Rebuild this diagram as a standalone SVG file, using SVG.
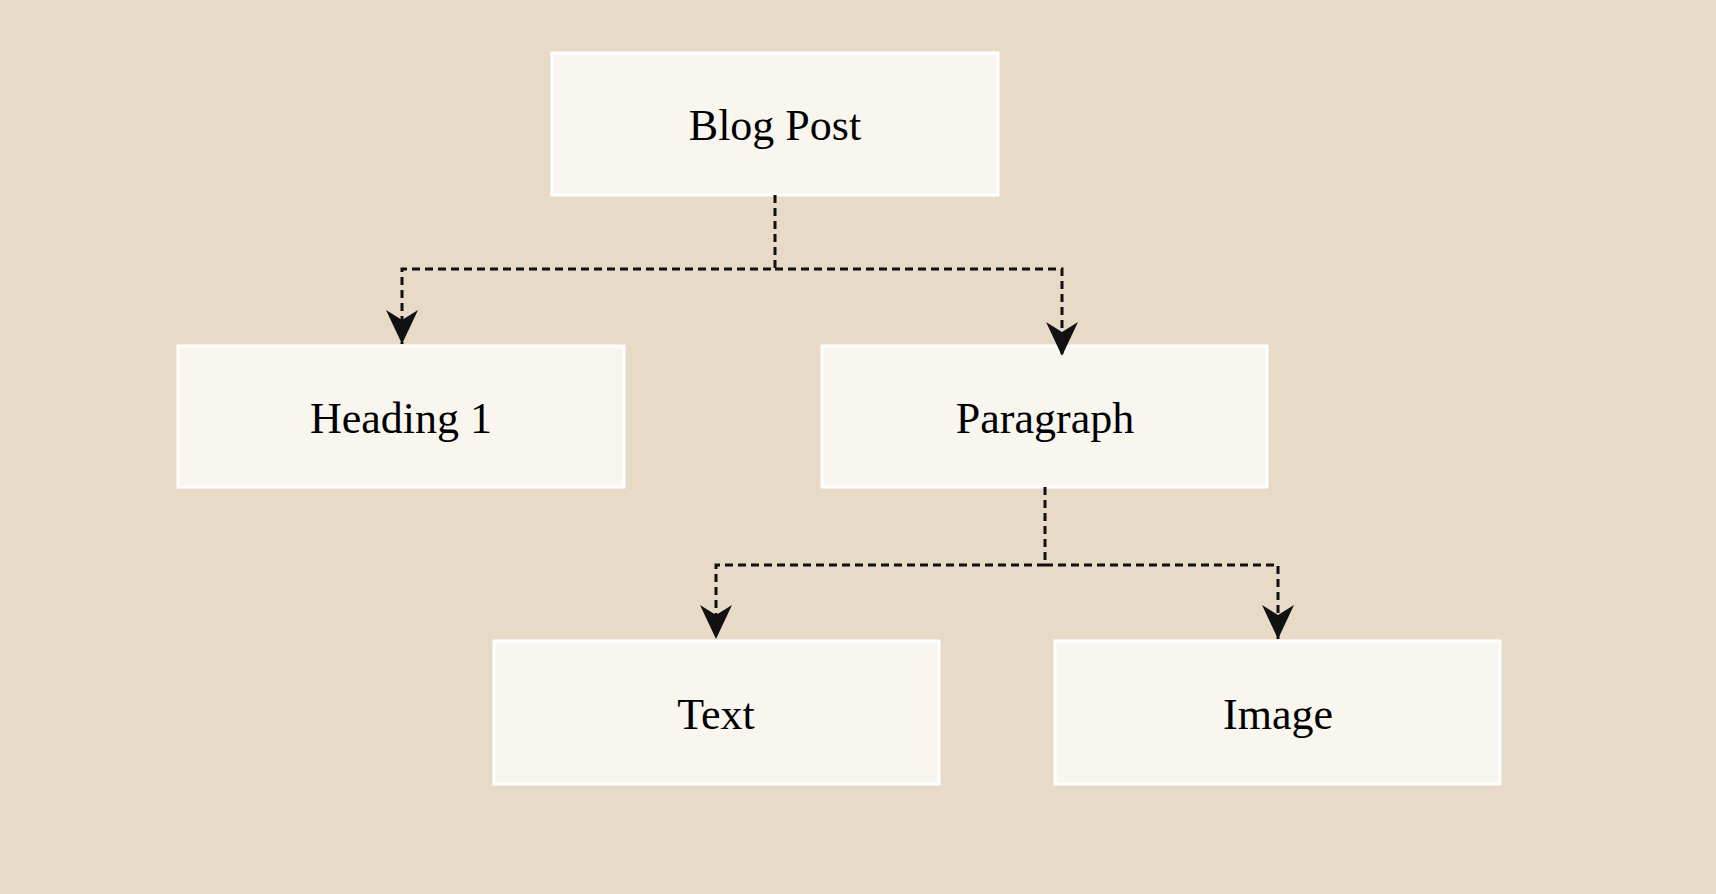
<svg xmlns="http://www.w3.org/2000/svg" width="1716" height="894" viewBox="0 0 1716 894">
<style>
.n{fill:#f9f6ef;stroke:#ffffff;stroke-width:3}
.t{font-family:"Liberation Serif",serif;font-size:44px;fill:#000;text-anchor:middle}
.c{fill:none;stroke:#111;stroke-width:3;stroke-dasharray:8 5}
</style>
<defs>
<marker id="b" viewBox="0 0 36 36" refX="34" refY="18" markerWidth="36" markerHeight="36" markerUnits="userSpaceOnUse" orient="auto"><path d="M0,2 L34,18 L0,34 L10,18 Z" fill="#111"/></marker></defs>
<rect width="1716" height="894" fill="#e7dbc7"/>
<g id="blogpost"><rect class="n" x="552" y="53" width="446" height="142"/><text class="t" x="775" y="140">Blog Post</text></g>
<g id="heading1"><rect class="n" x="178" y="346" width="446" height="141"/><text class="t" x="401" y="433">Heading 1</text></g>
<g id="paragraph"><rect class="n" x="822" y="346" width="445" height="141"/><text class="t" x="1045" y="433">Paragraph</text></g>
<g id="text"><rect class="n" x="494" y="641" width="445" height="143"/><text class="t" x="716" y="729">Text</text></g>
<g id="image"><rect class="n" x="1055" y="641" width="445" height="143"/><text class="t" x="1278" y="729">Image</text></g>
<g id="connectors">
<path class="c" d="M775,195 V269 H402 V344" marker-end="url(#b)"/>
<path class="c" d="M775,269 H1062 V356" marker-end="url(#b)"/>
<path class="c" d="M1045,487 V565 H716 V639" marker-end="url(#b)"/>
<path class="c" d="M1045,565 H1278 V639" marker-end="url(#b)"/>
</g>
</svg>
